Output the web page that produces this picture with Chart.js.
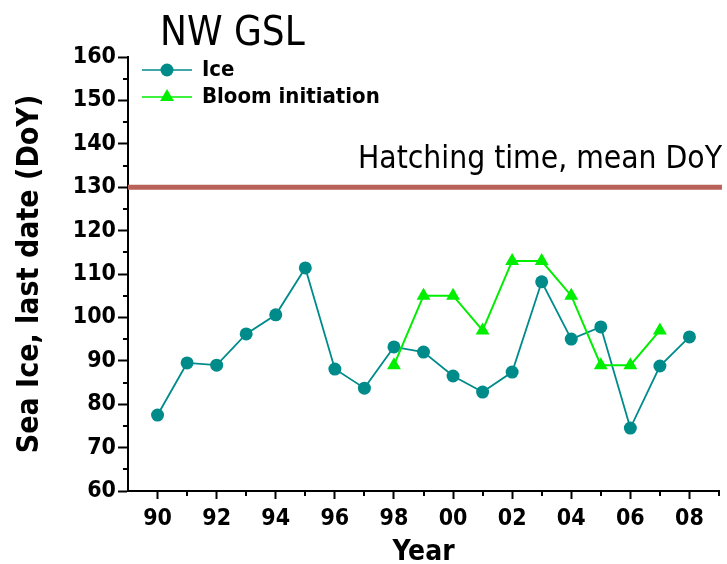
<!DOCTYPE html>
<html>
<head>
<meta charset="utf-8">
<title>NW GSL</title>
<script src="https://cdn.jsdelivr.net/npm/chart.js@4/dist/chart.umd.min.js"></script>
<style>
  html, body { margin: 0; padding: 0; background: #fff; }
</style>
</head>
<body>
<canvas id="ice-graph" width="727" height="564"></canvas>
<script>
// years on the x axis
const years = [1990, 1991, 1992, 1993, 1994, 1995, 1996, 1997, 1998, 1999,
               2000, 2001, 2002, 2003, 2004, 2005, 2006, 2007, 2008];
// last date of sea ice (day of year)
const iceDates = [77.5, 89.5, 89, 96.2, 100.6, 111.4, 88.1, 83.7, 93.2, 92,
                  86.5, 82.8, 87.4, 108.2, 95, 97.8, 74.5, 88.8, 95.5];
// bloom initiation (day of year), only 1998-2007
const bloomDates = [null, null, null, null, null, null, null, null, 89, 105,
                    105, 97, 113, 113, 105, 89, 89, 97, null];
// mean hatching time
const hatchingMean = 130;
const hatchingSpan = [1989, 2009.1];

const yearTicks = [1990, 1992, 1994, 1996, 1998, 2000, 2002, 2004, 2006, 2008];
const yearTickLabels = ['90', '92', '94', '96', '98', '00', '02', '04', '06', '08'];
const yearMinorTicks = [1991, 1993, 1995, 1997, 1999, 2001, 2003, 2005, 2007, 2009];
const doyMinorTicks = [65, 75, 85, 95, 105, 115, 125, 135, 145, 155];

const fontFamily = '"DejaVu Sans Condensed", "DejaVu Sans", sans-serif';
const iceColor = '#008b8b';
const bloomColor = '#00ee00';

function toPoints(values) {
  return years.map((y, i) => ({ x: y, y: values[i] }));
}

// short ticks between the labelled ones
const minorTicks = {
  id: 'minorTicks',
  afterDraw(chart) {
    const ctx = chart.ctx;
    const x = chart.scales.x;
    const y = chart.scales.y;
    ctx.save();
    ctx.strokeStyle = '#000';
    ctx.lineWidth = 2;
    ctx.beginPath();
    doyMinorTicks.forEach(v => {
      const py = Math.round(y.getPixelForValue(v));
      ctx.moveTo(y.right - 5, py);
      ctx.lineTo(y.right, py);
    });
    yearMinorTicks.forEach(v => {
      const px = Math.round(x.getPixelForValue(v));
      ctx.moveTo(px, x.top);
      ctx.lineTo(px, x.top + 5);
    });
    ctx.stroke();
    ctx.restore();
  }
};

// title, legend and hatching label
const annotations = {
  id: 'annotations',
  afterDraw(chart) {
    const ctx = chart.ctx;
    ctx.save();
    ctx.fillStyle = '#000';

    ctx.font = '40px ' + fontFamily;
    ctx.textAlign = 'left';
    ctx.textBaseline = 'alphabetic';
    ctx.fillText('NW GSL', 160, 45);

    ctx.font = '31.5px ' + fontFamily;
    ctx.textAlign = 'right';
    ctx.fillText('Hatching time, mean DoY', 722, 168);

    const items = [
      { text: 'Ice', color: iceColor, style: 'circle', radius: 6.5, y: 70 },
      { text: 'Bloom initiation', color: bloomColor, style: 'triangle', radius: 8, y: 97 }
    ];
    items.forEach(it => {
      ctx.strokeStyle = it.color;
      ctx.lineWidth = 1.5;
      ctx.beginPath();
      ctx.moveTo(142, it.y);
      ctx.lineTo(192, it.y);
      ctx.stroke();
      ctx.fillStyle = it.color;
      Chart.helpers.drawPoint(ctx, { pointStyle: it.style, radius: it.radius, borderWidth: 0 }, 167, it.y);
      ctx.fillStyle = '#000';
      ctx.font = 'bold 22px ' + fontFamily;
      ctx.textAlign = 'left';
      ctx.textBaseline = 'middle';
      ctx.fillText(it.text, 202, it.y);
    });
    ctx.restore();
  }
};

const graph = new Chart(document.getElementById('ice-graph'), {
  type: 'line',
  data: {
    datasets: [
      {
        label: 'Ice',
        data: toPoints(iceDates),
        borderColor: iceColor,
        backgroundColor: iceColor,
        borderWidth: 1.8,
        pointStyle: 'circle',
        pointRadius: 6.5,
        pointBorderWidth: 0,
        order: 2
      },
      {
        label: 'Bloom initiation',
        data: toPoints(bloomDates),
        borderColor: bloomColor,
        backgroundColor: bloomColor,
        borderWidth: 2,
        pointStyle: 'triangle',
        pointRadius: 8,
        pointBorderWidth: 0,
        order: 1
      },
      {
        label: 'Hatching time',
        data: hatchingSpan.map(x => ({ x: x, y: hatchingMean })),
        borderColor: '#b9625a',
        borderWidth: 5,
        pointRadius: 0,
        clip: false,
        order: 3
      }
    ]
  },
  options: {
    responsive: false,
    animation: false,
    layout: { padding: { top: 57, right: -3, left: 0, bottom: 0 } },
    plugins: {
      legend: { display: false },
      tooltip: { enabled: false }
    },
    scales: {
      x: {
        type: 'linear',
        min: 1989,
        max: 2009,
        afterBuildTicks: s => { s.ticks = yearTicks.map(v => ({ value: v })); },
        afterFit: s => { s.height = 73; s.paddingLeft = 0; s.paddingRight = 0; },
        grid: { drawOnChartArea: false, tickLength: 8, tickWidth: 2, tickColor: '#000' },
        border: { color: '#000', width: 2 },
        ticks: {
          color: '#000',
          font: { family: fontFamily, size: 23, weight: 'bold' },
          padding: 6,
          maxRotation: 0,
          autoSkip: false,
          callback: (v, i) => yearTickLabels[i]
        },
        title: {
          display: true,
          text: 'Year',
          color: '#000',
          font: { family: fontFamily, size: 28, weight: 'bold', lineHeight: 0.8 },
          padding: 0
        }
      },
      y: {
        min: 60,
        max: 160,
        afterFit: s => { s.width = 128; },
        grid: { drawOnChartArea: false, tickLength: 10, tickWidth: 2, tickColor: '#000' },
        border: { color: '#000', width: 2 },
        ticks: {
          stepSize: 10,
          color: '#000',
          font: { family: fontFamily, size: 23, weight: 'bold' },
          padding: 2
        },
        title: {
          display: true,
          text: 'Sea Ice, last date (DoY)',
          color: '#000',
          font: { family: fontFamily, size: 30, weight: 'bold' },
          padding: { top: 12, bottom: 0 }
        }
      }
    }
  },
  plugins: [minorTicks, annotations]
});
</script>
</body>
</html>
